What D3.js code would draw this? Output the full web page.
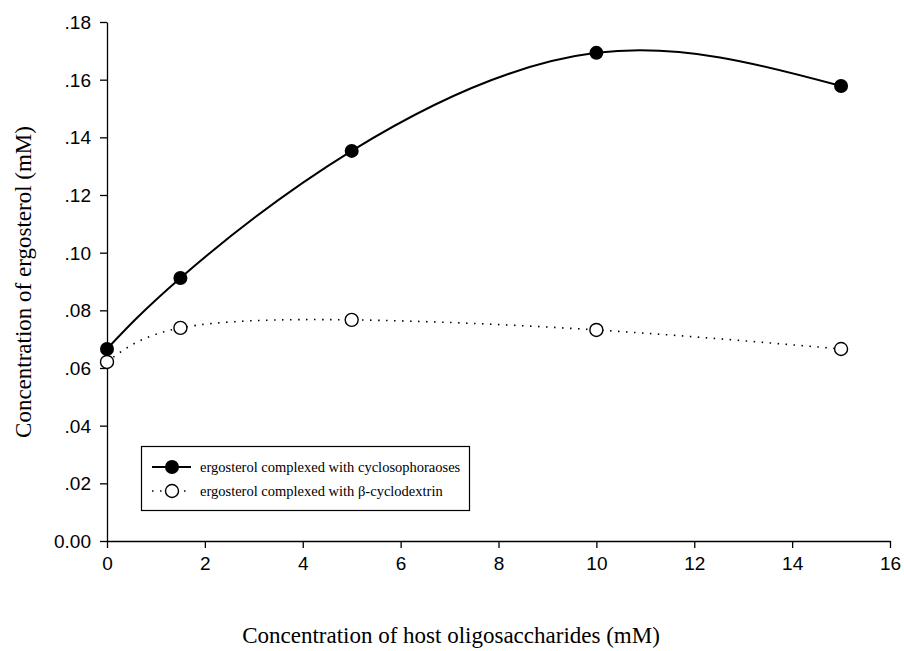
<!DOCTYPE html>
<style>
  body { margin: 0; background: #fff; }
  svg { display: block; }
</style>
<svg width="904" height="651"></svg>
<script src="https://d3js.org/d3.v7.min.js"></script>
<script>

var hostConc = [0, 1.5, 5, 10, 15];
var cyclosophoraoses = [0.0666, 0.0912, 0.1353, 0.1693, 0.1578];
var betaCyclodextrin = [0.0621, 0.0739, 0.0767, 0.0732, 0.0666];
var xTicks = [0, 2, 4, 6, 8, 10, 12, 14, 16];
var yTicks = [0, 0.02, 0.04, 0.06, 0.08, 0.10, 0.12, 0.14, 0.16, 0.18];
var legendLabels = ["ergosterol complexed with cyclosophoraoses",
                    "ergosterol complexed with \u03b2-cyclodextrin"];

var svg = d3.select("svg");

var x = d3.scaleLinear().domain([0, 16]).range([107, 890]);
var y = d3.scaleLinear().domain([0, 0.18]).range([541, 22]);

var sans = "'Liberation Sans', Arial, sans-serif",
    serif = "'Liberation Serif', 'Times New Roman', serif";

// axes
var xAxis = svg.append("g")
    .attr("transform", "translate(0," + y(0) + ")")
    .call(d3.axisBottom(x).tickValues(xTicks).tickSize(7).tickSizeOuter(0).tickPadding(9));
var yAxis = svg.append("g")
    .attr("transform", "translate(" + x(0) + ",0)")
    .call(d3.axisLeft(y).tickValues(yTicks).tickSize(7).tickSizeOuter(0).tickPadding(9)
      .tickFormat(function(d){ return d === 0 ? "0.00" : d3.format(".2f")(d).replace(/^0/, ""); }));

[xAxis, yAxis].forEach(function(a){
  a.selectAll("path, line").attr("stroke", "#000").attr("stroke-width", 1.3);
  a.selectAll("text").attr("fill", "#000").style("font-family", sans).style("font-size", "19px");
});
yAxis.selectAll("text").attr("dy", "0.34em");

// curves
var pts1 = hostConc.map(function(d, i){ return [d, cyclosophoraoses[i]]; });
var pts2 = hostConc.map(function(d, i){ return [d, betaCyclodextrin[i]]; });

var line = d3.line()
    .x(function(d){ return x(d[0]); })
    .y(function(d){ return y(d[1]); })
    .curve(d3.curveNatural);

svg.append("path").datum(pts2)
    .attr("d", line).attr("fill", "none")
    .attr("stroke", "#000").attr("stroke-width", 1.6)
    .attr("stroke-dasharray", "1.5,6.5");

svg.append("path").datum(pts1)
    .attr("d", line).attr("fill", "none")
    .attr("stroke", "#000").attr("stroke-width", 2);

svg.selectAll(".open").data(pts2).enter().append("circle")
    .attr("cx", function(d){ return x(d[0]); })
    .attr("cy", function(d){ return y(d[1]); })
    .attr("r", 6.5).attr("fill", "#fff").attr("stroke", "#000").attr("stroke-width", 1.4);

svg.selectAll(".filled").data(pts1).enter().append("circle")
    .attr("cx", function(d){ return x(d[0]); })
    .attr("cy", function(d){ return y(d[1]); })
    .attr("r", 7).attr("fill", "#000");

// legend
var lg = svg.append("g");
lg.append("rect").attr("x", 141.5).attr("y", 446.5).attr("width", 328).attr("height", 64)
    .attr("fill", "#fff").attr("stroke", "#000").attr("stroke-width", 1.2);

var rows = [467, 491];
lg.append("line").attr("x1", 152).attr("x2", 191).attr("y1", rows[0]).attr("y2", rows[0])
    .attr("stroke", "#000").attr("stroke-width", 2);
lg.append("circle").attr("cx", 172).attr("cy", rows[0]).attr("r", 7).attr("fill", "#000");
lg.append("line").attr("x1", 152).attr("x2", 191).attr("y1", rows[1]).attr("y2", rows[1])
    .attr("stroke", "#000").attr("stroke-width", 1.6).attr("stroke-dasharray", "1.5,6.5");
lg.append("circle").attr("cx", 172).attr("cy", rows[1]).attr("r", 6.5)
    .attr("fill", "#fff").attr("stroke", "#000").attr("stroke-width", 1.4);

lg.selectAll("text").data(legendLabels).enter().append("text")
    .attr("x", 200).attr("y", function(d, i){ return rows[i]; }).attr("dy", "0.35em")
    .style("font-family", serif).style("font-size", "14.5px")
    .text(function(d){ return d; });

// axis titles
svg.append("text").attr("x", 451).attr("y", 643).attr("text-anchor", "middle")
    .style("font-family", serif).style("font-size", "23px")
    .text("Concentration of host oligosaccharides (mM)");

svg.append("text").attr("transform", "translate(31,282) rotate(-90)").attr("text-anchor", "middle")
    .style("font-family", serif).style("font-size", "23px")
    .text("Concentration of ergosterol (mM)");

</script>
